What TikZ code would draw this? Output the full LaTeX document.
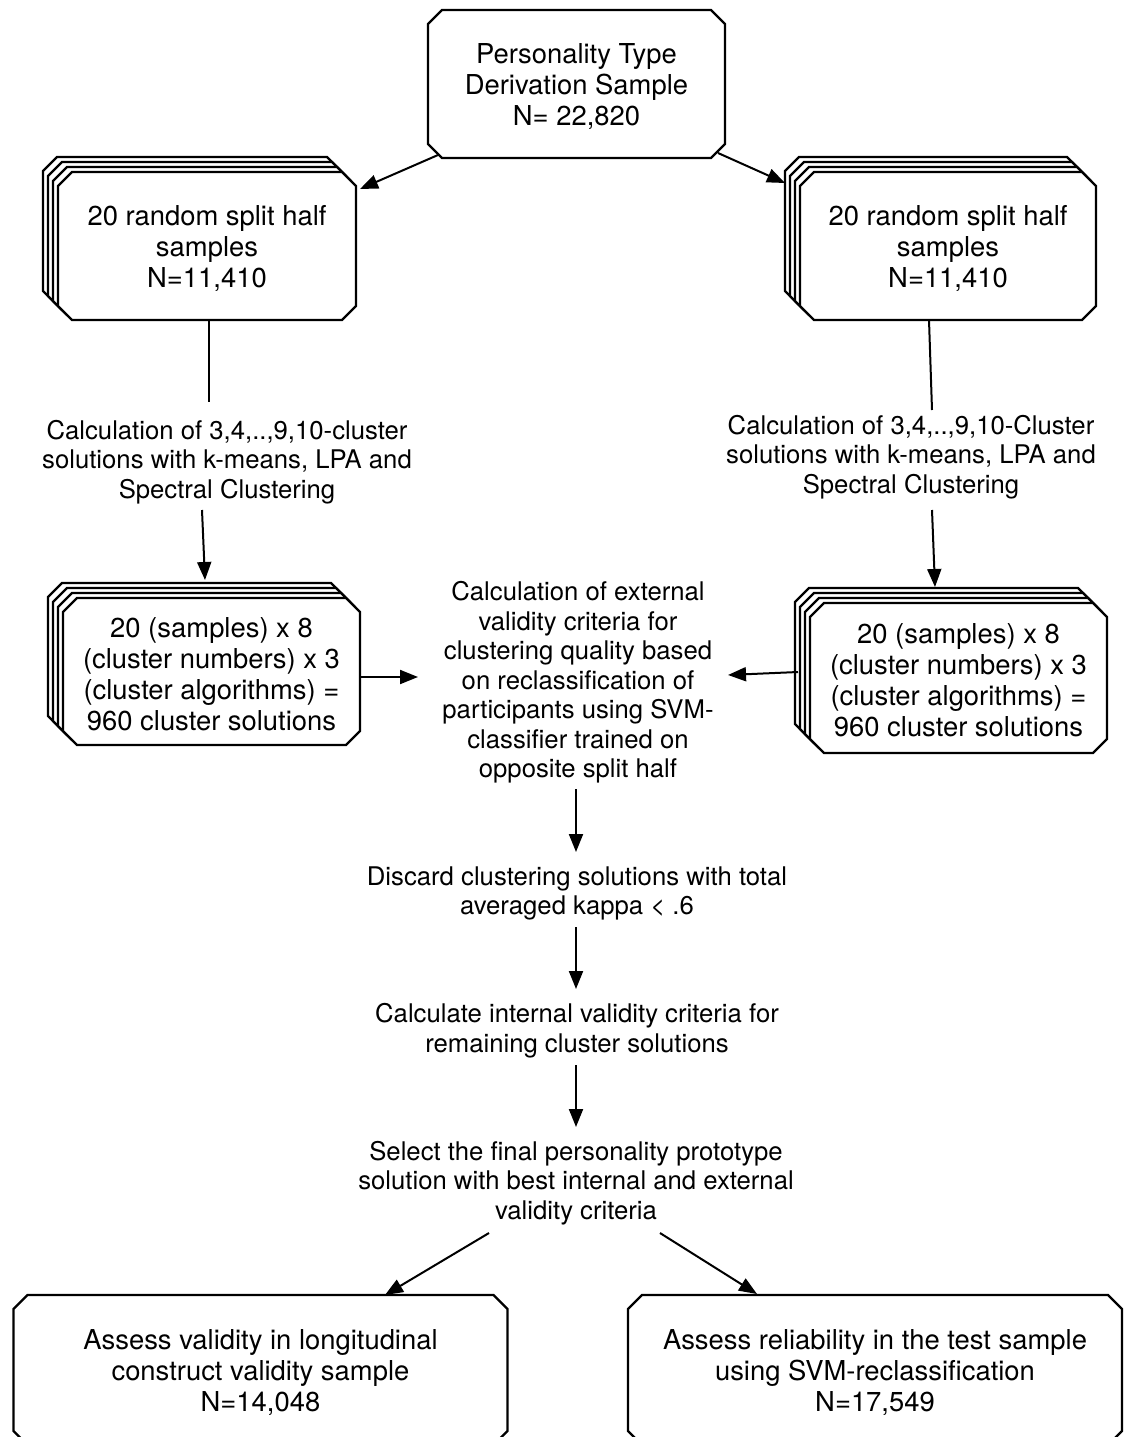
\documentclass[tikz,border=0pt]{standalone}
\usepackage{fontspec}
\setmainfont{TeX Gyre Heros}
\usetikzlibrary{calc,arrows.meta,backgrounds}
\newcommand\ch{14}
\newcommand\dy{2.5}
\newcommand\chpath[1]{($(#1.north west)+(\ch,-\dy)$) -- ($(#1.north east)+(-\ch,-\dy)$) -- ($(#1.north east)+(0,{\ch-\dy})$) -- ($(#1.south east)+(0,{-\ch-\dy})$) -- ($(#1.south east)+(-\ch,-\dy)$) -- ($(#1.south west)+(\ch,-\dy)$) -- ($(#1.south west)+(0,{-\ch-\dy})$) -- ($(#1.north west)+(0,{\ch-\dy})$) -- cycle}
\tikzset{
  boxline/.style={draw=black,line width=2.2pt,line join=miter,fill=white},
  boxnode/.style={rectangle,inner sep=0pt,outer sep=0pt,align=center,font=\fontsize{27.4}{31}\selectfont},
  txt/.style={rectangle,inner sep=0pt,align=center,font=\fontsize{25.7}{29.5}\selectfont},
  conn/.style={line width=2pt},
  arr/.style={line width=2pt,-{Triangle[length=18pt,width=14pt]}},
}
\begin{document}
\begin{tikzpicture}[x=1pt,y=-1pt]
\useasboundingbox (0,0) rectangle (1126,1437);

\node[boxnode,minimum width=297pt,minimum height=148pt] (top) at (576.5,86.5) {Personality Type\\Derivation Sample\\N= 22,820};
\node[boxnode,minimum width=298pt,minimum height=148pt] (ls) at (207,248.5) {20 random split half\\samples\\N=11,410};
\node[boxnode,minimum width=296pt,minimum height=148pt] (rs) at (948,248.5) {20 random split half\\samples\\N=11,410};
\node[boxnode,minimum width=297pt,minimum height=147pt] (lm) at (211.5,674) {20 (samples) x 8\\(cluster numbers) x 3\\(cluster algorithms) =\\960 cluster solutions};
\node[boxnode,minimum width=297pt,minimum height=150pt] (rm) at (958.5,680.5) {20 (samples) x 8\\(cluster numbers) x 3\\(cluster algorithms) =\\960 cluster solutions};
\node[boxnode,minimum width=494pt,minimum height=150pt] (bl) at (260.5,1372.5) {Assess validity in longitudinal\\construct validity sample\\N=14,048};
\node[boxnode,minimum width=494pt,minimum height=150pt] (br) at (875,1372.5) {Assess reliability in the test sample\\using SVM-reclassification\\N=17,549};

\node[txt] (lcalc) at (227,462) {Calculation of 3,4,..,9,10-cluster\\solutions with k-means, LPA and\\Spectral Clustering};
\node[txt] (rcalc) at (911,457) {Calculation of 3,4,..,9,10-Cluster\\solutions with k-means, LPA and\\Spectral Clustering};
\node[txt] (ctr) at (578,682.5) {Calculation of external\\validity criteria for\\clustering quality based\\on reclassification of\\participants using SVM-\\classifier trained on\\opposite split half};
\node[txt] (discard) at (577,893.5) {Discard clustering solutions with total\\averaged kappa < .6};
\node[txt] (internal) at (577,1030.5) {Calculate internal validity criteria for\\remaining cluster solutions};
\node[txt] (select) at (576,1183) {Select the final personality prototype\\solution with best internal and external\\validity criteria};

\begin{scope}[on background layer]
  \foreach \n in {top,bl,br} {\path[boxline] \chpath{\n};}
  \foreach \n in {ls,rs,lm,rm} {
    \foreach \s in {15,10,5} {
      \path[boxline,transform canvas={shift={(-\s pt,\s pt)}}] \chpath{\n};
    }
    \path[boxline] \chpath{\n};
  }
\end{scope}

\draw[arr] ($(top.center)+(-138.5,68.5)$) -- ($(ls.center)+(153,-59.5)$);
\draw[arr] ($(top.center)+(141.5,66.5)$) -- ($(rs.center)+(-163,-65.5)$);
\draw[conn] ($(ls.center)+(2,71.5)$) -- ($(lcalc.center)+(-18,-60)$);
\draw[arr] ($(lcalc.center)+(-25,48)$) -- ($(lm.center)+(-6.5,-94)$);
\draw[conn] ($(rs.center)+(-19,71.5)$) -- ($(rcalc.center)+(21,-47)$);
\draw[arr] ($(rcalc.center)+(21,53)$) -- ($(rm.center)+(-23.5,-93.5)$);
\draw[arr] ($(lm.center)+(148.5,3)$) -- ($(ctr.center)+(-160,-5.5)$);
\draw[arr] ($(rm.center)+(-160.5,-8.5)$) -- ($(ctr.center)+(150,-7.5)$);
\draw[arr] ($(ctr.center)+(-2,106.5)$) -- ($(discard.center)+(-1,-41.5)$);
\draw[arr] ($(discard.center)+(-1,33.5)$) -- ($(internal.center)+(-1,-41.5)$);
\draw[arr] ($(internal.center)+(-1,34.5)$) -- ($(select.center)+(0,-56)$);
\draw[arr] ($(select.center)+(-87,50)$) -- ($(bl.center)+(124.5,-77.5)$);
\draw[arr] ($(select.center)+(84,50)$) -- ($(br.center)+(-118,-78.5)$);
\end{tikzpicture}
\end{document}
